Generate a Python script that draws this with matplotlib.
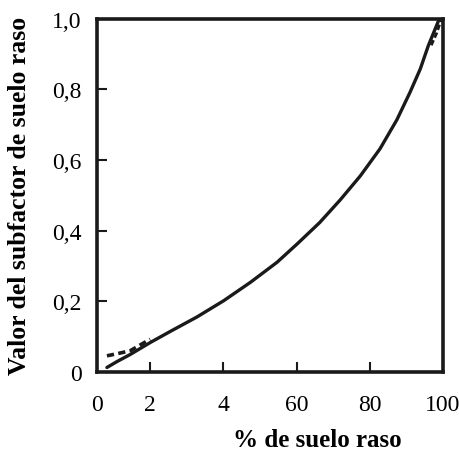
import matplotlib
matplotlib.use("Agg")
import matplotlib.pyplot as plt

# curva principal
curve_x = [8.2, 11, 14.6, 20.1, 25.5, 32.8, 40.1, 47.4, 54.7, 60.2, 66.3, 71.9,
           77.4, 82.8, 87.4, 91.0, 93.8, 96.0, 97.9, 98.8, 99.6]
curve_y = [0.013, 0.03, 0.05, 0.084, 0.115, 0.156, 0.202, 0.254, 0.311, 0.363, 0.423, 0.487,
           0.555, 0.632, 0.714, 0.792, 0.858, 0.924, 0.972, 0.995, 1.0]

# tramos discontinuos
dash_low_x = [8.2, 11, 14.5, 20]
dash_low_y = [0.046, 0.052, 0.06, 0.093]
dash_top_x = [96.8, 98.3, 99.6]
dash_top_y = [0.925, 0.96, 1.0]

x_ticks = [5.5, 20, 40, 60, 80, 100]
x_labels = ["0", "2", "4", "60", "80", "100"]
y_ticks = [0, 0.2, 0.4, 0.6, 0.8, 1.0]
y_labels = ["0", "0,2", "0,4", "0,6", "0,8", "1,0"]

plt.rcParams["font.family"] = ["Liberation Serif", "DejaVu Serif"]

fig = plt.figure(figsize=(4.6, 4.6), dpi=100)
ax = fig.add_axes([0.211, 0.189, 0.752, 0.768])

ax.plot(curve_x, curve_y, color="#1a1a1a", lw=2.4, solid_capstyle="round",
        solid_joinstyle="round")
ax.plot(dash_low_x, dash_low_y, color="#1a1a1a", lw=2.6, ls=(0, (2.0, 1.2)))
ax.plot(dash_top_x, dash_top_y, color="#1a1a1a", lw=2.0, ls=(0, (2.0, 1.0)))

ax.set_xlim(5.5, 100)
ax.set_ylim(0, 1.0)
ax.set_xticks(x_ticks)
ax.set_xticklabels(x_labels, fontsize=17)
ax.set_yticks(y_ticks)
ax.set_yticklabels(y_labels, fontsize=17)
ax.tick_params(direction="in", length=7, width=1.5, color="#1a1a1a")
ax.tick_params(axis="y", pad=11)
ax.tick_params(axis="x", pad=16)
ax.xaxis.get_major_ticks()[0].tick1line.set_visible(False)
ax.yaxis.get_major_ticks()[0].tick1line.set_visible(False)
ax.yaxis.get_major_ticks()[-1].tick1line.set_visible(False)
for sp in ax.spines.values():
    sp.set_linewidth(2.6)
    sp.set_color("#1a1a1a")

fig.text(0.69, 0.043, "% de suelo raso", fontsize=18, fontweight="bold",
         ha="center", va="center")
fig.text(0.043, 0.574, "Valor del subfactor de suelo raso", fontsize=18.5,
         fontweight="bold", rotation=90, ha="center", va="center")

fig.savefig("out.png", dpi=100)
